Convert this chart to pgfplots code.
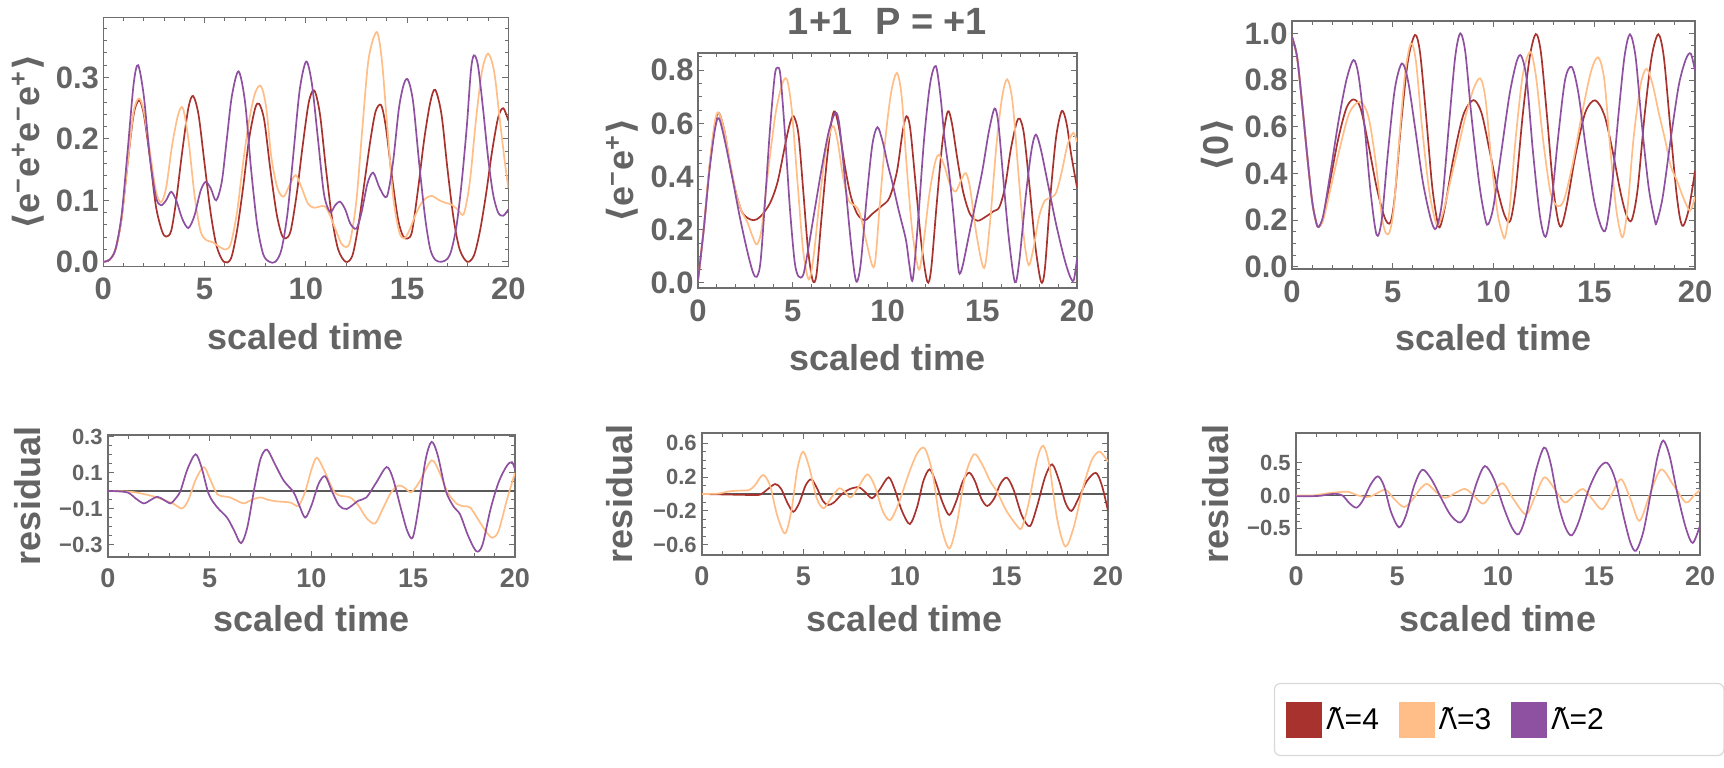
\documentclass[border=0pt]{standalone}
\usepackage{pgfplots}
\pgfplotsset{compat=1.18}
\usepackage{fontspec}
\setmainfont{Liberation Sans}
\newfontfamily\djv{DejaVu Sans}
\newfontfamily\noto{Noto Sans}
\definecolor{lred}{RGB}{168,50,45}
\definecolor{lorange}{RGB}{255,190,135}
\definecolor{lpurple}{RGB}{142,80,160}
\definecolor{txt}{RGB}{100,100,100}
\definecolor{frm}{RGB}{110,110,110}
\pgfplotsset{
  every axis title shift=0pt,
  panel/.style={
    scale only axis, xmin=0, xmax=20, anchor=south west,
    axis line style={frm, line width=0.6pt},
    tick style={frm, line width=0.5pt},
    major tick length=3pt, minor tick length=1.8pt,
    tick align=inside,
    xtick={0,5,10,15,20}, xticklabels={0,5,10,15,20},
    minor x tick num=4,
    label style={font=\fontsize{18}{18}\selectfont\bfseries, text=txt},
    xlabel={scaled time},
    every axis plot/.append style={line width=0.85pt, smooth},
  },
  toprow/.style={panel,
    xticklabel style={font=\fontsize{15.5}{15.5}\selectfont\bfseries, text=txt, anchor=base, yshift=-16.5pt},
    yticklabel style={font=\fontsize{15.5}{15.5}\selectfont\bfseries, text=txt, anchor=east, inner sep=0pt, xshift=-2pt}},
  botrow/.style={panel,
    xticklabel style={font=\fontsize{13.5}{13.5}\selectfont\bfseries, text=txt, anchor=base, yshift=-15pt},
    yticklabel style={font=\fontsize{11}{11}\selectfont\bfseries, text=txt, anchor=east, inner sep=0pt, xshift=-2.5pt}},
  zl/.style={black!65, line width=0.7pt, sharp plot},
}
\begin{document}
\begin{tikzpicture}
\useasboundingbox (0,0) rectangle (862pt,383.5pt);
% ---------------- top left
\begin{axis}[toprow, at={(51.65pt,250.15pt)}, width=202.5pt, height=124.7pt,
  ymin=-0.008, ymax=0.398, ytick={0,0.1,0.2,0.3}, yticklabels={0.0,0.1,0.2,0.3},
  minor ytick={0.02,0.04,0.06,0.08,0.12,0.14,0.16,0.18,0.22,0.24,0.26,0.28,0.32,0.34,0.36,0.38},
  ylabel={{\djv⟨}e\textsuperscript{−}e\textsuperscript{+}e\textsuperscript{−}e\textsuperscript{+}{\djv⟩}},
  ylabel style={at={(axis description cs:-0.186,0.5)}, anchor=center},
  xlabel style={at={(axis description cs:0.5,-0.333)}, anchor=base}]
\addplot[color=lred] coordinates {(0,0) (0.3,0.003) (0.6,0.02) (0.9,0.07) (1.2,0.16) (1.5,0.24) (1.77,0.263) (2.0,0.24) (2.3,0.17) (2.6,0.09) (2.9,0.05) (3.1,0.041) (3.35,0.05) (3.6,0.10) (3.9,0.18) (4.2,0.25) (4.43,0.27) (4.7,0.24) (5.0,0.16) (5.3,0.08) (5.6,0.025) (5.95,0.0) (6.3,0.005) (6.6,0.05) (6.9,0.12) (7.2,0.20) (7.5,0.25) (7.7,0.257) (7.95,0.23) (8.25,0.15) (8.55,0.08) (8.8,0.045) (9.0,0.038) (9.25,0.05) (9.55,0.11) (9.85,0.19) (10.15,0.26) (10.42,0.279) (10.7,0.24) (11.0,0.15) (11.3,0.07) (11.6,0.02) (11.97,0.0) (12.3,0.01) (12.6,0.06) (12.9,0.13) (13.2,0.2) (13.45,0.245) (13.72,0.255) (13.95,0.22) (14.25,0.14) (14.55,0.07) (14.8,0.042) (15.03,0.038) (15.25,0.05) (15.55,0.12) (15.85,0.2) (16.15,0.26) (16.39,0.28) (16.7,0.24) (17.0,0.15) (17.3,0.07) (17.6,0.02) (17.97,0.0) (18.3,0.01) (18.6,0.05) (18.9,0.11) (19.2,0.18) (19.5,0.235) (19.75,0.25) (20,0.23)};
\addplot[color=lorange] coordinates {(0,0) (0.3,0.003) (0.6,0.02) (0.9,0.07) (1.2,0.16) (1.5,0.245) (1.77,0.266) (2.0,0.245) (2.3,0.18) (2.6,0.115) (2.85,0.097) (3.1,0.12) (3.4,0.19) (3.7,0.24) (3.93,0.25) (4.2,0.2) (4.5,0.11) (4.8,0.05) (5.1,0.035) (5.4,0.032) (5.7,0.025) (6.05,0.02) (6.3,0.03) (6.6,0.08) (6.9,0.16) (7.2,0.23) (7.5,0.275) (7.79,0.286) (8.05,0.25) (8.3,0.17) (8.6,0.12) (8.9,0.106) (9.2,0.125) (9.5,0.141) (9.8,0.12) (10.1,0.095) (10.4,0.088) (10.7,0.09) (10.95,0.09) (11.2,0.075) (11.5,0.05) (11.75,0.03) (11.99,0.024) (12.2,0.035) (12.5,0.10) (12.8,0.22) (13.1,0.33) (13.5,0.374) (13.75,0.33) (14.0,0.23) (14.3,0.11) (14.6,0.05) (14.85,0.038) (15.1,0.05) (15.4,0.075) (15.7,0.095) (16.0,0.105) (16.25,0.107) (16.6,0.1) (16.9,0.096) (17.2,0.093) (17.5,0.085) (17.8,0.078) (18.1,0.13) (18.4,0.23) (18.7,0.31) (19.0,0.339) (19.3,0.31) (19.55,0.24) (19.8,0.17) (20,0.12)};
\addplot[color=lpurple] coordinates {(0,0) (0.3,0.003) (0.6,0.02) (0.9,0.075) (1.2,0.18) (1.5,0.29) (1.72,0.32) (2.0,0.27) (2.3,0.17) (2.6,0.105) (2.85,0.092) (3.1,0.1) (3.35,0.114) (3.6,0.1) (3.9,0.07) (4.2,0.055) (4.5,0.075) (4.8,0.115) (5.05,0.13) (5.3,0.12) (5.57,0.1) (5.85,0.13) (6.1,0.2) (6.35,0.27) (6.68,0.31) (7.0,0.26) (7.3,0.15) (7.6,0.06) (7.9,0.012) (8.2,0.0) (8.5,0.0) (8.8,0.02) (9.1,0.08) (9.4,0.18) (9.7,0.28) (10.02,0.326) (10.3,0.29) (10.6,0.2) (10.9,0.11) (11.2,0.081) (11.45,0.092) (11.69,0.098) (11.95,0.085) (12.2,0.062) (12.5,0.054) (12.75,0.08) (13.05,0.128) (13.33,0.145) (13.65,0.12) (14.0,0.106) (14.3,0.16) (14.6,0.25) (14.85,0.29) (15.05,0.296) (15.3,0.26) (15.6,0.16) (15.9,0.07) (16.15,0.02) (16.4,0.003) (16.7,0.0) (17.0,0.005) (17.2,0.02) (17.45,0.06) (17.7,0.13) (17.95,0.22) (18.15,0.31) (18.3,0.336) (18.5,0.32) (18.75,0.25) (19.0,0.17) (19.25,0.11) (19.5,0.08) (19.75,0.075) (20,0.085)};
\end{axis}
% ---------------- top middle
\begin{axis}[toprow, at={(349pt,239.5pt)}, width=189.5pt, height=117.5pt,
  ymin=-0.019, ymax=0.865, ytick={0,0.2,0.4,0.6,0.8}, yticklabels={0.0,0.2,0.4,0.6,0.8},
  minor ytick={0.05,0.1,0.15,0.25,0.3,0.35,0.45,0.5,0.55,0.65,0.7,0.75,0.85},
  ylabel={{\djv⟨}e\textsuperscript{−}e\textsuperscript{+}{\djv⟩}},
  ylabel style={at={(axis description cs:-0.2,0.5)}, anchor=center},
  xlabel style={at={(axis description cs:0.5,-0.353)}, anchor=base},
  title={1+1\hspace{0.6em}P = +1},
  title style={at={(axis description cs:0.5,1.077)}, anchor=base, font=\fontsize{19}{19}\selectfont\bfseries, text=txt}]
\addplot[color=lred] coordinates {(0,0.01) (0.3,0.2) (0.6,0.43) (0.9,0.6) (1.1,0.64) (1.4,0.57) (1.7,0.44) (2.0,0.34) (2.3,0.27) (2.6,0.245) (2.95,0.236) (3.3,0.25) (3.8,0.3) (4.2,0.38) (4.6,0.52) (4.85,0.6) (5.05,0.627) (5.3,0.56) (5.55,0.35) (5.8,0.13) (6.05,0.01) (6.25,0.03) (6.5,0.23) (6.8,0.46) (7.05,0.61) (7.22,0.645) (7.45,0.58) (7.75,0.44) (8.05,0.33) (8.4,0.26) (8.8,0.236) (9.2,0.26) (9.7,0.29) (10.1,0.32) (10.5,0.42) (10.8,0.57) (11.0,0.627) (11.2,0.58) (11.5,0.36) (11.8,0.14) (12.1,0.005) (12.3,0.05) (12.6,0.3) (12.9,0.53) (13.18,0.645) (13.4,0.6) (13.7,0.46) (14.0,0.34) (14.35,0.26) (14.75,0.234) (15.2,0.25) (15.6,0.27) (15.9,0.285) (16.2,0.36) (16.5,0.5) (16.8,0.6) (16.98,0.618) (17.2,0.56) (17.5,0.36) (17.8,0.14) (18.1,0.005) (18.3,0.05) (18.6,0.33) (18.9,0.55) (19.2,0.647) (19.45,0.6) (19.7,0.48) (20,0.36)};
\addplot[color=lorange] coordinates {(0,0.01) (0.3,0.2) (0.6,0.44) (0.9,0.61) (1.1,0.64) (1.4,0.57) (1.7,0.45) (2.0,0.34) (2.3,0.27) (2.6,0.23) (2.85,0.18) (3.1,0.145) (3.35,0.2) (3.7,0.42) (4.1,0.64) (4.45,0.75) (4.7,0.764) (4.95,0.65) (5.25,0.38) (5.55,0.12) (5.85,0.013) (6.1,0.1) (6.4,0.3) (6.75,0.5) (7.1,0.59) (7.35,0.54) (7.65,0.4) (7.95,0.31) (8.3,0.29) (8.55,0.26) (8.9,0.15) (9.3,0.062) (9.6,0.3) (9.9,0.55) (10.2,0.72) (10.5,0.79) (10.75,0.7) (11.0,0.45) (11.3,0.2) (11.65,0.05) (11.9,0.15) (12.2,0.33) (12.5,0.45) (12.72,0.482) (13.0,0.44) (13.3,0.37) (13.6,0.344) (13.9,0.39) (14.13,0.413) (14.35,0.36) (14.7,0.18) (15.1,0.056) (15.4,0.22) (15.75,0.52) (16.05,0.7) (16.32,0.766) (16.6,0.68) (16.9,0.42) (17.2,0.17) (17.45,0.067) (17.7,0.13) (18.0,0.25) (18.3,0.31) (18.6,0.32) (18.9,0.34) (19.2,0.42) (19.5,0.52) (19.8,0.565) (20,0.53)};
\addplot[color=lpurple] coordinates {(0,0.01) (0.3,0.2) (0.6,0.42) (0.9,0.58) (1.1,0.62) (1.4,0.54) (1.8,0.4) (2.2,0.25) (2.6,0.12) (2.9,0.04) (3.1,0.023) (3.3,0.08) (3.55,0.32) (3.8,0.58) (4.05,0.78) (4.2,0.81) (4.35,0.78) (4.6,0.55) (4.85,0.28) (5.1,0.08) (5.3,0.025) (5.55,0.03) (5.8,0.12) (6.1,0.25) (6.5,0.42) (6.9,0.57) (7.25,0.64) (7.45,0.6) (7.7,0.43) (8.0,0.2) (8.25,0.04) (8.4,0.005) (8.6,0.08) (8.9,0.32) (9.2,0.52) (9.47,0.586) (9.75,0.53) (10.0,0.45) (10.26,0.376) (10.6,0.27) (10.97,0.163) (11.15,0.07) (11.33,0.012) (11.6,0.22) (11.93,0.54) (12.25,0.75) (12.55,0.816) (12.8,0.7) (13.0,0.55) (13.25,0.414) (13.45,0.28) (13.6,0.163) (13.77,0.04) (13.95,0.06) (14.3,0.18) (14.65,0.3) (15.0,0.42) (15.35,0.57) (15.65,0.656) (15.85,0.6) (16.1,0.4) (16.4,0.17) (16.72,0.003) (16.95,0.08) (17.3,0.33) (17.6,0.5) (17.83,0.558) (18.1,0.5) (18.5,0.36) (18.9,0.22) (19.3,0.1) (19.6,0.03) (19.82,0.009) (20,0.09)};
\end{axis}
% ---------------- top right
\begin{axis}[toprow, at={(646pt,249pt)}, width=201.5pt, height=124pt,
  ymin=-0.01, ymax=1.053, ytick={0,0.2,0.4,0.6,0.8,1.0}, yticklabels={0.0,0.2,0.4,0.6,0.8,1.0},
  minor y tick num=3,
  ylabel={{\djv⟨}0{\djv⟩}},
  ylabel style={at={(axis description cs:-0.186,0.5)}, anchor=center},
  xlabel style={at={(axis description cs:0.5,-0.327)}, anchor=base},
  legend style={at={(axis description cs:-0.045,-1.669)}, anchor=north west, draw=black!15, rounded corners=3pt, line width=0.6pt, fill=white, font=\fontsize{15}{15}\selectfont\mdseries, text=black, legend columns=-1, inner xsep=6pt, inner ysep=9pt, /tikz/every even column/.append style={column sep=8pt}},
  legend image code/.code={\draw[#1, sharp corners, line width=0.5pt, fill] (0pt,-8.75pt) rectangle (17.5pt,8.75pt);}]
\addplot[color=lred] coordinates {(0,0.985) (0.25,0.9) (0.5,0.7) (0.75,0.48) (1.0,0.28) (1.2,0.19) (1.32,0.17) (1.55,0.21) (1.9,0.37) (2.3,0.55) (2.7,0.68) (3.05,0.717) (3.4,0.68) (3.8,0.52) (4.2,0.34) (4.6,0.21) (4.88,0.189) (5.1,0.3) (5.4,0.6) (5.75,0.88) (6.1,0.993) (6.35,0.92) (6.65,0.65) (6.95,0.35) (7.2,0.2) (7.35,0.171) (7.6,0.26) (8.0,0.46) (8.5,0.65) (9.0,0.714) (9.4,0.66) (9.8,0.5) (10.2,0.33) (10.55,0.22) (10.83,0.196) (11.1,0.33) (11.45,0.65) (11.8,0.9) (12.1,0.997) (12.35,0.92) (12.65,0.65) (12.95,0.35) (13.2,0.2) (13.38,0.175) (13.65,0.27) (14.05,0.47) (14.55,0.66) (15.04,0.713) (15.5,0.65) (15.9,0.5) (16.3,0.32) (16.6,0.22) (16.86,0.2) (17.15,0.33) (17.5,0.65) (17.85,0.9) (18.18,0.996) (18.45,0.9) (18.75,0.62) (19.05,0.34) (19.25,0.21) (19.42,0.175) (19.7,0.25) (20,0.41)};
\addlegendentry{{\noto Λ̃}=4}
\addplot[color=lorange] coordinates {(0,0.985) (0.25,0.9) (0.5,0.7) (0.75,0.48) (1.0,0.28) (1.2,0.19) (1.32,0.17) (1.55,0.2) (1.9,0.33) (2.35,0.5) (2.85,0.66) (3.39,0.707) (3.8,0.64) (4.15,0.45) (4.45,0.22) (4.65,0.145) (4.85,0.15) (5.05,0.25) (5.3,0.52) (5.6,0.82) (5.9,0.957) (6.15,0.88) (6.45,0.6) (6.8,0.33) (7.1,0.2) (7.27,0.179) (7.55,0.25) (8.0,0.42) (8.3,0.53) (8.6,0.64) (9.0,0.76) (9.34,0.807) (9.6,0.72) (9.9,0.45) (10.2,0.23) (10.45,0.14) (10.58,0.128) (10.8,0.25) (11.1,0.55) (11.45,0.82) (11.82,0.921) (12.1,0.82) (12.45,0.55) (12.8,0.33) (13.05,0.27) (13.3,0.26) (13.55,0.3) (13.95,0.45) (14.4,0.66) (14.85,0.84) (15.2,0.897) (15.5,0.8) (15.8,0.5) (16.1,0.24) (16.4,0.126) (16.65,0.25) (16.95,0.55) (17.3,0.78) (17.6,0.848) (17.9,0.78) (18.2,0.66) (18.5,0.55) (18.8,0.43) (19.1,0.37) (19.4,0.3) (19.75,0.24) (20,0.3)};
\addlegendentry{{\noto Λ̃}=3}
\addplot[color=lpurple] coordinates {(0,0.985) (0.25,0.9) (0.5,0.7) (0.75,0.48) (1.0,0.28) (1.2,0.19) (1.32,0.17) (1.55,0.22) (1.9,0.4) (2.3,0.62) (2.7,0.8) (3.05,0.886) (3.3,0.82) (3.6,0.6) (3.9,0.32) (4.2,0.136) (4.45,0.2) (4.75,0.48) (5.1,0.76) (5.45,0.871) (5.75,0.8) (6.1,0.6) (6.5,0.36) (6.9,0.2) (7.15,0.164) (7.45,0.28) (7.8,0.62) (8.1,0.9) (8.35,1.0) (8.6,0.92) (8.9,0.65) (9.3,0.35) (9.6,0.2) (9.75,0.183) (10.0,0.26) (10.4,0.5) (10.8,0.74) (11.15,0.88) (11.38,0.903) (11.65,0.8) (11.95,0.5) (12.3,0.22) (12.58,0.128) (12.85,0.25) (13.2,0.55) (13.55,0.8) (13.88,0.856) (14.2,0.75) (14.6,0.5) (15.0,0.28) (15.35,0.17) (15.58,0.162) (15.85,0.32) (16.2,0.65) (16.5,0.9) (16.77,0.996) (17.05,0.9) (17.35,0.62) (17.7,0.34) (18.0,0.2) (18.1,0.19) (18.4,0.3) (18.8,0.55) (19.2,0.78) (19.55,0.89) (19.79,0.913) (20,0.84)};
\addlegendentry{{\noto Λ̃}=2\rule{52pt}{0pt}}
\end{axis}
% ---------------- bottom left
\begin{axis}[botrow, at={(54pt,105pt)}, width=203.5pt, height=61pt,
  ymin=-0.367, ymax=0.311, ytick={-0.3,-0.1,0.1,0.3}, yticklabels={−0.3,−0.1,0.1,0.3},
  minor y tick num=3,
  ylabel={residual},
  ylabel style={at={(axis description cs:-0.197,0.5)}, anchor=center},
  xlabel style={at={(axis description cs:0.5,-0.607)}, anchor=base}]
\addplot[zl] coordinates {(0,0) (20,0)};
\addplot[color=lorange] coordinates {(0,0) (0.7,-0.002) (1.3,-0.007) (2.1,-0.026) (2.75,-0.05) (3.24,-0.073) (3.64,-0.097) (3.95,-0.05) (4.3,0.06) (4.7,0.133) (5.0,0.07) (5.36,-0.017) (5.7,-0.03) (6.0,-0.036) (6.35,-0.055) (6.67,-0.069) (7.05,-0.05) (7.48,-0.036) (7.9,-0.05) (8.3,-0.058) (8.95,-0.064) (9.36,-0.082) (9.7,0.0) (10.0,0.12) (10.26,0.185) (10.6,0.12) (11.08,0.002) (11.4,-0.026) (11.9,-0.036) (12.3,-0.08) (12.7,-0.15) (13.12,-0.181) (13.5,-0.1) (13.9,-0.01) (14.26,0.03) (14.55,0.02) (14.9,-0.007) (15.3,0.05) (15.9,0.17) (16.3,0.1) (16.7,-0.01) (17.16,-0.073) (17.5,-0.085) (17.8,-0.092) (18.2,-0.16) (18.6,-0.23) (18.9,-0.26) (19.2,-0.22) (19.6,-0.05) (20,0.1)};
\addplot[color=lpurple] coordinates {(0,0) (0.5,-0.002) (1.0,-0.01) (1.4,-0.045) (1.76,-0.069) (2.1,-0.05) (2.42,-0.032) (2.75,-0.05) (3.07,-0.069) (3.3,-0.045) (3.56,0) (3.9,0.12) (4.3,0.204) (4.6,0.13) (4.95,-0.017) (5.36,-0.09) (5.85,-0.148) (6.2,-0.22) (6.54,-0.29) (6.85,-0.2) (7.2,0.02) (7.5,0.18) (7.81,0.23) (8.2,0.15) (8.63,0.058) (9.12,-0.007) (9.4,-0.08) (9.69,-0.148) (10.0,-0.08) (10.35,0.04) (10.67,0.082) (11.0,0.0) (11.35,-0.08) (11.73,-0.1) (12.3,-0.054) (12.7,-0.036) (13.2,0.05) (13.69,0.133) (14.0,0.07) (14.4,-0.1) (14.7,-0.22) (14.97,-0.26) (15.25,-0.1) (15.6,0.17) (15.9,0.273) (16.2,0.2) (16.6,0.0) (17.0,-0.09) (17.3,-0.13) (17.7,-0.25) (18.1,-0.335) (18.4,-0.3) (18.8,-0.1) (19.2,0.05) (19.6,0.14) (19.85,0.16) (20,0.12)};
\end{axis}
% ---------------- bottom middle
\begin{axis}[botrow, at={(351pt,106pt)}, width=203pt, height=61pt,
  ymin=-0.72, ymax=0.72, ytick={-0.6,-0.2,0.2,0.6}, yticklabels={−0.6,−0.2,0.2,0.6},
  minor y tick num=3,
  ylabel={residual},
  ylabel style={at={(axis description cs:-0.202,0.5)}, anchor=center},
  xlabel style={at={(axis description cs:0.5,-0.623)}, anchor=base}]
\addplot[zl] coordinates {(0,0) (20,0)};
\addplot[color=lred] coordinates {(0,0) (1,-0.005) (2,-0.01) (2.6,-0.012) (2.9,-0.005) (3.2,0.05) (3.61,0.118) (3.9,0.06) (4.2,-0.1) (4.5,-0.21) (4.8,-0.1) (5.1,0.1) (5.39,0.173) (5.7,0.05) (5.95,-0.08) (6.2,-0.13) (6.5,-0.1) (6.9,0.0) (7.3,0.06) (7.73,0.079) (8.05,0.02) (8.38,-0.05) (8.75,0.05) (9.19,0.197) (9.5,0.05) (9.85,-0.2) (10.24,-0.354) (10.6,-0.15) (10.9,0.15) (11.21,0.291) (11.5,0.15) (11.85,-0.1) (12.18,-0.248) (12.5,-0.1) (12.85,0.15) (13.16,0.252) (13.45,0.15) (13.75,-0.05) (14.05,-0.142) (14.4,-0.05) (14.7,0.12) (15.02,0.193) (15.35,0.05) (15.75,-0.25) (16.15,-0.38) (16.5,-0.15) (16.9,0.2) (17.25,0.35) (17.6,0.15) (17.9,-0.1) (18.2,-0.2) (18.55,-0.05) (18.95,0.15) (19.4,0.25) (19.7,0.1) (20,-0.2)};
\addplot[color=lorange] coordinates {(0,0) (0.8,0.005) (1.3,0.03) (1.8,0.04) (2.3,0.045) (2.6,0.1) (3.0,0.224) (3.35,0.1) (3.7,-0.25) (4.09,-0.465) (4.4,-0.2) (4.7,0.3) (4.98,0.5) (5.3,0.3) (5.65,-0.05) (5.99,-0.169) (6.35,-0.05) (6.76,0.067) (7.05,0.02) (7.33,-0.04) (7.7,0.08) (8.14,0.232) (8.5,0.1) (8.9,-0.2) (9.27,-0.307) (9.7,-0.1) (10.2,0.25) (10.6,0.48) (10.97,0.539) (11.35,0.25) (11.75,-0.35) (12.18,-0.642) (12.55,-0.35) (12.95,0.2) (13.4,0.469) (13.8,0.35) (14.2,0.15) (14.53,0.028) (15.0,-0.2) (15.5,-0.37) (15.75,-0.4) (16.1,-0.1) (16.5,0.4) (16.8,0.57) (17.1,0.35) (17.5,-0.3) (17.9,-0.62) (18.3,-0.4) (18.8,0.1) (19.2,0.4) (19.55,0.5) (19.8,0.45) (20,0.38)};
\end{axis}
% ---------------- bottom right
\begin{axis}[botrow, at={(648pt,106pt)}, width=202pt, height=61pt,
  ymin=-0.915, ymax=0.96, ytick={-0.5,0,0.5}, yticklabels={−0.5,0.0,0.5},
  minor y tick num=4,
  ylabel={residual},
  ylabel style={at={(axis description cs:-0.2,0.5)}, anchor=center},
  xlabel style={at={(axis description cs:0.5,-0.623)}, anchor=base}]
\addplot[zl] coordinates {(0,0) (20,0)};
\addplot[color=lorange] coordinates {(0,0) (0.8,0.0) (1.2,0.015) (1.6,0.036) (2.1,0.05) (2.58,0.056) (3.07,0.0) (3.5,-0.025) (3.8,0.0) (4.1,0.05) (4.45,0.086) (4.85,-0.05) (5.35,-0.178) (5.8,-0.05) (6.15,0.1) (6.49,0.178) (6.95,0.05) (7.39,-0.036) (7.9,0.04) (8.37,0.1) (8.8,0.0) (9.27,-0.127) (9.75,0.05) (10.24,0.188) (10.75,-0.05) (11.39,-0.29) (11.85,0.0) (12.3,0.28) (12.8,0.1) (13.3,-0.107) (13.75,0.0) (14.2,0.1) (14.65,-0.05) (15.15,-0.214) (15.6,0.0) (16.09,0.25) (16.55,-0.05) (17.0,-0.39) (17.5,0.0) (18.07,0.4) (18.7,0.15) (19.3,-0.107) (19.7,0.0) (20,0.083)};
\addplot[color=lpurple] coordinates {(0,-0.01) (0.6,-0.012) (1.2,-0.005) (1.6,0.015) (1.93,0.025) (2.3,0.0) (2.65,-0.12) (2.99,-0.188) (3.3,-0.08) (3.7,0.17) (4.05,0.294) (4.35,0.15) (4.7,-0.25) (5.1,-0.49) (5.45,-0.3) (5.85,0.15) (6.25,0.396) (6.7,0.25) (7.2,-0.05) (7.65,-0.3) (8.12,-0.416) (8.5,-0.25) (8.95,0.2) (9.35,0.452) (9.8,0.25) (10.3,-0.2) (10.7,-0.5) (11.03,-0.594) (11.4,-0.3) (11.85,0.35) (12.28,0.736) (12.6,0.5) (13.0,-0.15) (13.35,-0.5) (13.65,-0.613) (14.0,-0.4) (14.5,0.1) (15.0,0.42) (15.41,0.5) (15.8,0.25) (16.2,-0.3) (16.55,-0.72) (16.83,-0.85) (17.2,-0.55) (17.6,0.1) (17.9,0.6) (18.18,0.845) (18.5,0.6) (18.9,0.0) (19.3,-0.5) (19.64,-0.73) (20,-0.46)};
\end{axis}
\end{tikzpicture}
\end{document}
